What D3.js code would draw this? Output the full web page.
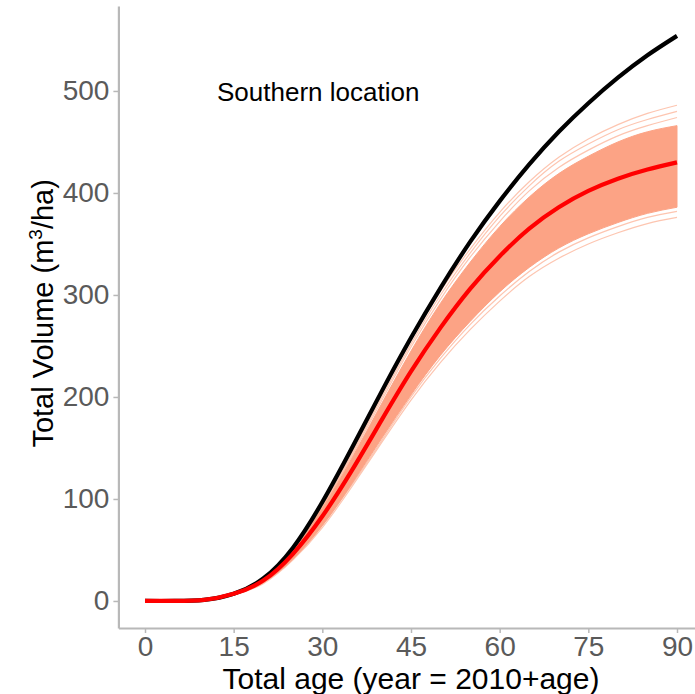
<!DOCTYPE html>
<html>
<head>
<meta charset="utf-8">
<script src="https://cdn.jsdelivr.net/npm/d3@7"></script>
<style>
  body { margin: 0; background: #fff; }
  svg { display: block; font-family: "Liberation Sans", Arial, sans-serif; }
</style>
</head>
<body>
<div id="vis"></div>
<script>
// ages (years)
var ages = [0, 5, 10, 15, 20, 25, 30, 35, 40, 45, 50, 55, 60, 65, 70, 75, 80, 85, 90];

// black reference curve
var blackVol = [0, 0, 1, 7, 22, 52, 97, 150, 205, 258, 307, 352, 392, 428, 460, 488, 513, 535, 554];
// red mean curve
var redVol = [0, 0, 1, 7, 20, 46, 83, 128, 177, 225, 268, 306, 338, 365, 386, 402, 414, 423, 430];

// salmon ensemble core band
var coreHi = [0, 0, 1, 8, 22, 51, 91, 140, 193, 245, 292, 332, 367, 396, 419, 436, 450, 460, 466];
var coreLo = [0, 0, 1, 6, 18, 41, 74, 115, 159, 202, 241, 274, 303, 327, 346, 360, 371, 380, 386];

// lighter ensemble members at the edges
var fringeLines = [
  [0, 0, 1, 8, 22, 52, 92, 142, 196, 249, 296, 337, 372, 402, 425, 442, 456, 466, 474],
  [0, 0, 1, 8, 22, 52, 93, 144, 199, 252, 300, 341, 377, 407, 431, 448, 462, 472, 480],
  [0, 0, 1, 8, 23, 53, 95, 146, 202, 256, 304, 345, 381, 411, 435, 453, 467, 478, 486],
  [0, 0, 1, 6, 18, 41, 74, 114, 157, 200, 238, 271, 299, 323, 342, 356, 367, 376, 382],
  [0, 0, 1, 6, 17, 40, 72, 112, 155, 197, 234, 266, 294, 318, 336, 350, 361, 370, 376]
];

var xTicks = [0, 15, 30, 45, 60, 75, 90];
var yTicks = [0, 100, 200, 300, 400, 500];

var W = 695, H = 694;

var svg = d3.select("#vis").append("svg")
    .attr("width", W)
    .attr("height", H);

var x = d3.scaleLinear()
    .domain([-4.5, 94.5])
    .range([118.4, 703.6]);

var y = d3.scaleLinear()
    .domain([-26.5, 583.3])
    .range([628, 6]);

var line = function(vals) {
  return d3.line()
    .x(function(d, i) { return x(ages[i]); })
    .y(function(d) { return y(d); })
    .curve(d3.curveNatural)(vals);
};

var band = d3.area()
    .x(function(d, i) { return x(ages[i]); })
    .y0(function(d, i) { return y(coreLo[i]); })
    .y1(function(d, i) { return y(coreHi[i]); })
    .curve(d3.curveNatural);

////////// ensemble //////////

fringeLines.forEach(function(vals) {
  svg.append("path")
      .attr("d", line(vals))
      .attr("fill", "none")
      .attr("stroke", "#fcb79c")
      .attr("stroke-opacity", 0.8)
      .attr("stroke-width", 1.2);
});

svg.append("path")
    .attr("d", band(ages))
    .attr("fill", "#fca385")
    .attr("stroke", "#fca385")
    .attr("stroke-width", 1);

////////// main lines //////////

svg.append("path")
    .attr("d", line(blackVol))
    .attr("fill", "none")
    .attr("stroke", "#000")
    .attr("stroke-width", 4.2);

svg.append("path")
    .attr("d", line(redVol))
    .attr("fill", "none")
    .attr("stroke", "#ff0000")
    .attr("stroke-width", 4.2);

////////// axes //////////

var xAxis = svg.append("g")
    .attr("transform", "translate(0,628)")
    .call(d3.axisBottom(x).tickValues(xTicks).tickSize(5).tickPadding(3).tickSizeOuter(0));

var yAxis = svg.append("g")
    .attr("transform", "translate(118.4,0)")
    .call(d3.axisLeft(y).tickValues(yTicks).tickSize(5).tickPadding(4).tickSizeOuter(0));

[xAxis, yAxis].forEach(function(ax) {
  ax.select(".domain").attr("stroke", "#b8b8b8").attr("stroke-width", 2.2);
  ax.selectAll(".tick line").attr("stroke", "#b8b8b8").attr("stroke-width", 1.5);
  ax.selectAll(".tick text")
      .attr("fill", "#5a5a5a")
      .style("font-size", "28px")
      .style("font-family", "Liberation Sans, Arial, sans-serif");
});

svg.append("text")
    .attr("x", x(45))
    .attr("y", 689)
    .attr("text-anchor", "middle")
    .style("font-size", "30px")
    .attr("fill", "#000")
    .text("Total age (year = 2010+age)");

var yt = svg.append("text")
    .attr("transform", "translate(53," + y(282) + ") rotate(-90)")
    .attr("text-anchor", "middle")
    .style("font-size", "29px")
    .attr("fill", "#000");
yt.append("tspan").text("Total Volume (m");
yt.append("tspan").attr("dy", -11).style("font-size", "19px").text("3");
yt.append("tspan").attr("dy", 11).text("/ha)");

svg.append("text")
    .attr("x", 217)
    .attr("y", 101)
    .style("font-size", "26px")
    .attr("fill", "#000")
    .text("Southern location");
</script>
</body>
</html>
